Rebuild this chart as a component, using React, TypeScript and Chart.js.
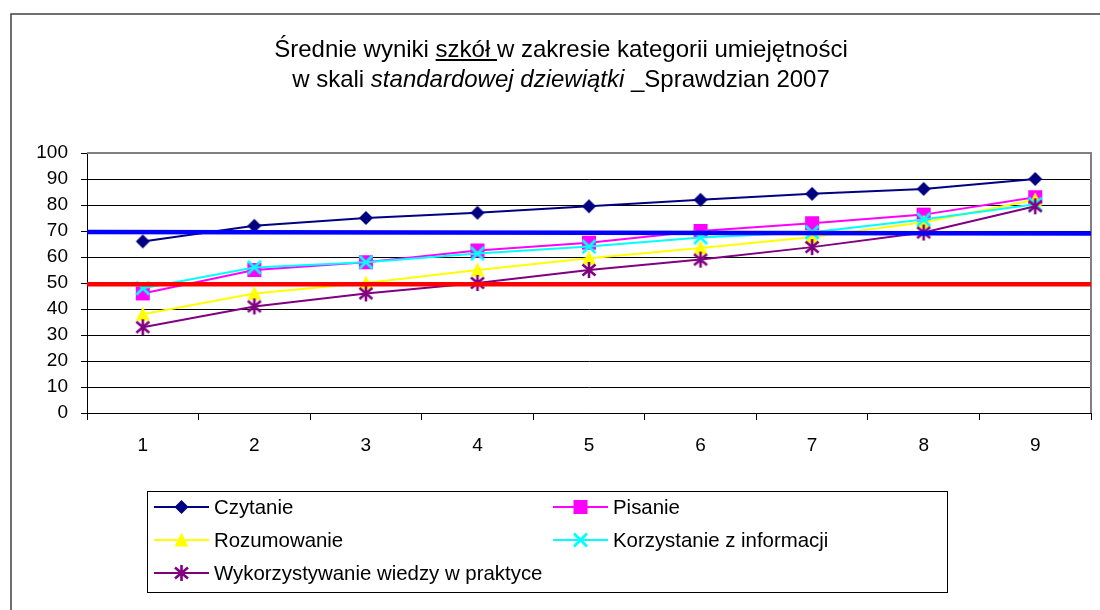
import React, { useEffect, useRef } from 'react';
import { Chart, registerables } from 'chart.js';

Chart.register(...registerables);

const categories = ['1', '2', '3', '4', '5', '6', '7', '8', '9'];
const czytanie = [66, 72, 75, 77, 79.5, 82, 84.3, 86.2, 90];
const pisanie = [46, 55, 58, 62.5, 65.5, 70, 73, 76.3, 83];
const rozumowanie = [38, 46, 50, 55, 59.5, 63.5, 67.7, 73.4, 82];
const korzystanie = [48, 56, 58, 61.3, 64, 67.5, 69.5, 74.4, 80.3];
const wykorzystywanie = [33, 41, 46, 50, 55, 59, 63.8, 69.4, 79.5];
const seriesNames = [
  'Czytanie',
  'Pisanie',
  'Rozumowanie',
  'Korzystanie z informacji',
  'Wykorzystywanie wiedzy w praktyce',
];
const blueRef = [69.6, 69.0];
const redRef = [49.5, 49.5];
const yMin = 0;
const yMax = 100;
const yStep = 10;

const titleLine1 = [
  { text: 'Średnie wyniki ', italic: false, underline: false },
  { text: 'szkół ', italic: false, underline: true },
  { text: 'w zakresie kategorii umiejętności', italic: false, underline: false },
];
const titleLine2 = [
  { text: 'w skali ', italic: false, underline: false },
  { text: 'standardowej dziewiątki', italic: true, underline: false },
  { text: ' _Sprawdzian 2007', italic: false, underline: false },
];

const FONT = '"Liberation Sans", Arial, Helvetica, sans-serif';

type MarkerKind = 'diamond' | 'square' | 'triangle' | 'x' | 'asterisk';

function drawMarker(ctx: CanvasRenderingContext2D, kind: MarkerKind, color: string, cx: number, cy: number) {
  ctx.save();
  ctx.fillStyle = color;
  ctx.strokeStyle = color;
  ctx.lineJoin = 'miter';
  ctx.beginPath();
  if (kind === 'diamond') {
    const h = 7;
    ctx.moveTo(cx, cy - h);
    ctx.lineTo(cx + h, cy);
    ctx.lineTo(cx, cy + h);
    ctx.lineTo(cx - h, cy);
    ctx.closePath();
    ctx.fill();
  } else if (kind === 'square') {
    const h = 7;
    ctx.rect(cx - h, cy - h, 2 * h, 2 * h);
    ctx.fill();
  } else if (kind === 'triangle') {
    const w = 7;
    ctx.moveTo(cx, cy - 7.5);
    ctx.lineTo(cx + w, cy + 6.5);
    ctx.lineTo(cx - w, cy + 6.5);
    ctx.closePath();
    ctx.fill();
  } else if (kind === 'x') {
    const h = 6.5;
    ctx.lineWidth = 2.8;
    ctx.moveTo(cx - h, cy - h);
    ctx.lineTo(cx + h, cy + h);
    ctx.moveTo(cx + h, cy - h);
    ctx.lineTo(cx - h, cy + h);
    ctx.stroke();
  } else {
    const h = 6.5;
    ctx.lineWidth = 2.6;
    ctx.moveTo(cx - h, cy - h + 1);
    ctx.lineTo(cx + h, cy + h - 1);
    ctx.moveTo(cx + h, cy - h + 1);
    ctx.lineTo(cx - h, cy + h - 1);
    ctx.moveTo(cx, cy - 8);
    ctx.lineTo(cx, cy + 8);
    ctx.stroke();
  }
  ctx.restore();
}

function makeMarkerImage(kind: MarkerKind, color: string): HTMLCanvasElement {
  const c = document.createElement('canvas');
  c.width = 20;
  c.height = 20;
  const ctx = c.getContext('2d')!;
  drawMarker(ctx, kind, color, 10, 10);
  return c;
}

const decorPlugin = {
  id: 'decor',
  beforeDraw(chart: any) {
    const ctx: CanvasRenderingContext2D = chart.ctx;
    ctx.save();
    ctx.fillStyle = '#ffffff';
    ctx.fillRect(0, 0, chart.width, chart.height);
    ctx.strokeStyle = '#404040';
    ctx.lineWidth = 1.5;
    ctx.strokeRect(11, 14, 1300, 800);
    ctx.restore();
  },
  beforeDatasetsDraw(chart: any) {
    const ctx: CanvasRenderingContext2D = chart.ctx;
    const a = chart.chartArea;
    ctx.save();
    ctx.strokeStyle = '#808080';
    ctx.lineWidth = 2;
    ctx.beginPath();
    ctx.moveTo(a.left, a.top);
    ctx.lineTo(a.right, a.top);
    ctx.lineTo(a.right, a.bottom);
    ctx.stroke();
    ctx.restore();
  },
  afterDraw(chart: any) {
    const ctx: CanvasRenderingContext2D = chart.ctx;
    ctx.save();
    // Title
    const size = 24;
    const drawLine = (parts: typeof titleLine1, baseline: number) => {
      let total = 0;
      const widths: number[] = [];
      for (const p of parts) {
        ctx.font = `${p.italic ? 'italic ' : ''}${size}px ${FONT}`;
        const w = ctx.measureText(p.text).width;
        widths.push(w);
        total += w;
      }
      let x = 561 - total / 2;
      ctx.fillStyle = '#000';
      ctx.textBaseline = 'alphabetic';
      ctx.textAlign = 'left';
      parts.forEach((p, i) => {
        ctx.font = `${p.italic ? 'italic ' : ''}${size}px ${FONT}`;
        ctx.fillText(p.text, x, baseline);
        if (p.underline) {
          ctx.fillRect(x, baseline + 2, widths[i], 2);
        }
        x += widths[i];
      });
    };
    drawLine(titleLine1, 57);
    drawLine(titleLine2, 87);

    // Legend
    const box = { left: 147, top: 491, right: 947, bottom: 592 };
    ctx.strokeStyle = '#000';
    ctx.lineWidth = 1;
    ctx.strokeRect(box.left + 0.5, box.top + 0.5, box.right - box.left, box.bottom - box.top);
    const cols = [154, 553];
    const rows = [507, 540, 573];
    const series = chart.data.datasets.filter((d: any) => !d.isRef);
    ctx.font = `20.4px ${FONT}`;
    ctx.textBaseline = 'middle';
    series.forEach((d: any, i: number) => {
      const x0 = cols[i % 2];
      const y = rows[Math.floor(i / 2)];
      ctx.strokeStyle = d.borderColor;
      ctx.lineWidth = 2;
      ctx.beginPath();
      ctx.moveTo(x0, y);
      ctx.lineTo(x0 + 55, y);
      ctx.stroke();
      drawMarker(ctx, d.markerKind, d.borderColor, x0 + 27.5, y);
      ctx.fillStyle = '#000';
      ctx.fillText(d.label, x0 + 60, y + 1);
    });
    ctx.restore();
  },
};

export default function App() {
  const canvasRef = useRef<HTMLCanvasElement | null>(null);

  useEffect(() => {
    if (!canvasRef.current) return;
    const specs: { data: number[]; color: string; kind: MarkerKind }[] = [
      { data: czytanie, color: '#000080', kind: 'diamond' },
      { data: pisanie, color: '#FF00FF', kind: 'square' },
      { data: rozumowanie, color: '#FFFF00', kind: 'triangle' },
      { data: korzystanie, color: '#00FFFF', kind: 'x' },
      { data: wykorzystywanie, color: '#800080', kind: 'asterisk' },
    ];
    const seriesDatasets = specs.map((s, i) => ({
      type: 'line' as const,
      label: seriesNames[i],
      data: s.data,
      borderColor: s.color,
      backgroundColor: s.color,
      borderWidth: 2,
      pointStyle: makeMarkerImage(s.kind, s.color),
      pointRadius: 7,
      tension: 0,
      fill: false,
      order: 5 - i,
      markerKind: s.kind,
      xAxisID: 'x',
      yAxisID: 'y',
    }));
    const refDatasets = [
      { values: blueRef, color: '#0000FF' },
      { values: redRef, color: '#FF0000' },
    ].map((r) => ({
      type: 'line' as const,
      label: '',
      data: [
        { x: 0, y: r.values[0] },
        { x: 1, y: r.values[1] },
      ],
      borderColor: r.color,
      backgroundColor: r.color,
      borderWidth: 4.5,
      pointRadius: 0,
      tension: 0,
      fill: false,
      order: 0,
      isRef: true,
      xAxisID: 'xr',
      yAxisID: 'y',
    }));

    const chart = new Chart(canvasRef.current, {
      type: 'line',
      data: {
        labels: categories,
        datasets: [...seriesDatasets, ...refDatasets] as any,
      },
      options: {
        responsive: false,
        animation: false,
        devicePixelRatio: 1,
        layout: { padding: { left: 0, top: 153, right: 7, bottom: 137 } },
        plugins: {
          legend: { display: false },
          title: { display: false },
          tooltip: { enabled: false },
        },
        scales: {
          x: {
            type: 'category',
            offset: true,
            grid: {
              offset: true,
              drawOnChartArea: false,
              drawTicks: true,
              tickLength: 7,
              color: '#000',
            },
            border: { display: true, color: '#000', width: 1 },
            ticks: {
              color: '#000',
              font: { family: FONT, size: 19 },
              padding: 14,
              maxRotation: 0,
            },
            afterFit: (scale: any) => {
              scale.height = 60;
            },
          },
          xr: {
            type: 'linear',
            display: false,
            min: 0,
            max: 1,
            offset: false,
          },
          y: {
            type: 'linear',
            min: yMin,
            max: yMax,
            ticks: {
              stepSize: yStep,
              color: '#000',
              font: { family: FONT, size: 19 },
              padding: 13,
            },
            grid: {
              color: (c: any) => (c.tick && c.tick.value === yMax ? '#808080' : '#000'),
              tickColor: '#000',
              lineWidth: 1,
              drawTicks: true,
              tickLength: 6,
            },
            border: { display: true, color: '#000', width: 1 },
            afterFit: (scale: any) => {
              scale.width = 87;
            },
          },
        },
      } as any,
      plugins: [decorPlugin],
    });
    return () => chart.destroy();
  }, []);

  return (
    <div style={{ position: 'fixed', left: 0, top: 0, width: 1100, height: 610, background: '#fff' }}>
      <canvas ref={canvasRef} width={1100} height={610} style={{ display: 'block' }} />
    </div>
  );
}
